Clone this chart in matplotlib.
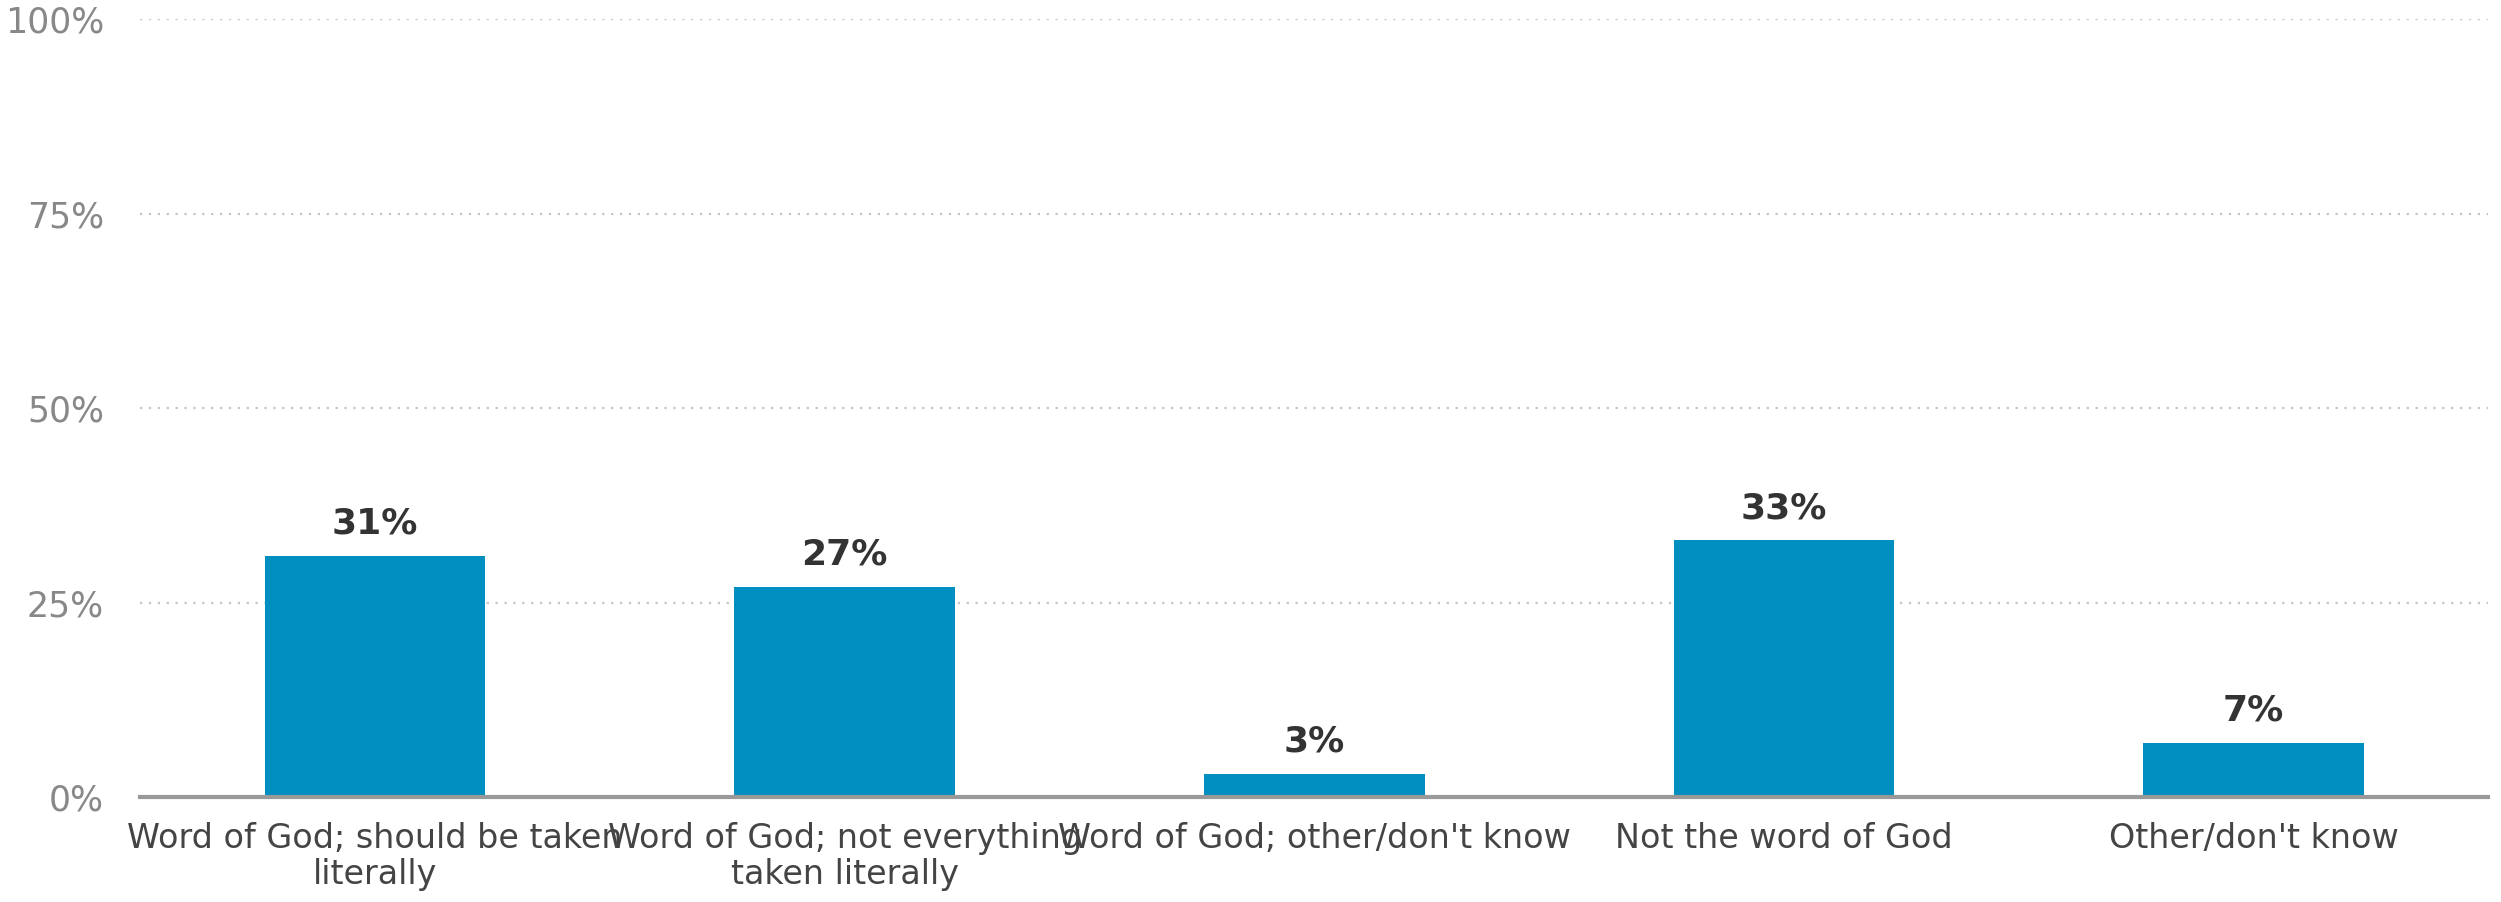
import matplotlib.pyplot as plt

# Kategorien und Werte
categories = [
    "Word of God; should be taken\nliterally",
    "Word of God; not everything\ntaken literally",
    "Word of God; other/don't know",
    "Not the word of God",
    "Other/don't know",
]
values = [31, 27, 3, 33, 7]
yticks = [0, 25, 50, 75, 100]
ytick_labels = ["0%", "25%", "50%", "75%", "100%"]

bar_color = "#008FC0"

fig = plt.figure(figsize=(25.01, 9.02), dpi=100)
ax = fig.add_axes([0.056, 0.116, 0.939, 0.863])

x = range(len(categories))
bars = ax.bar(x, values, width=0.47, color=bar_color, zorder=3)

for b, v in zip(bars, values):
    ax.annotate(f"{v}%", (b.get_x() + b.get_width() / 2, v),
                xytext=(0, 11), textcoords="offset points",
                ha="center", va="bottom", fontsize=26,
                fontweight="bold", color="#333333")

ax.set_xlim(-0.5, 4.5)
ax.set_ylim(0, 100)
ax.set_yticks(yticks)
ax.set_yticklabels(ytick_labels)
ax.set_xticks(list(x))
ax.set_xticklabels(categories, linespacing=1.1)

ax.tick_params(axis="y", length=0, pad=26, labelsize=25, labelcolor="#888888")
ax.tick_params(axis="x", length=0, pad=18, labelsize=24, labelcolor="#444444")

ax.yaxis.grid(True, linestyle=(0, (1, 3)), color="#c4c4c4", linewidth=1.6, zorder=0)
for s in ["top", "right", "left"]:
    ax.spines[s].set_visible(False)
ax.spines["bottom"].set_color("#999999")
ax.spines["bottom"].set_linewidth(3)
ax.spines["bottom"].set_zorder(4)

fig.savefig("out.png", dpi=100)
